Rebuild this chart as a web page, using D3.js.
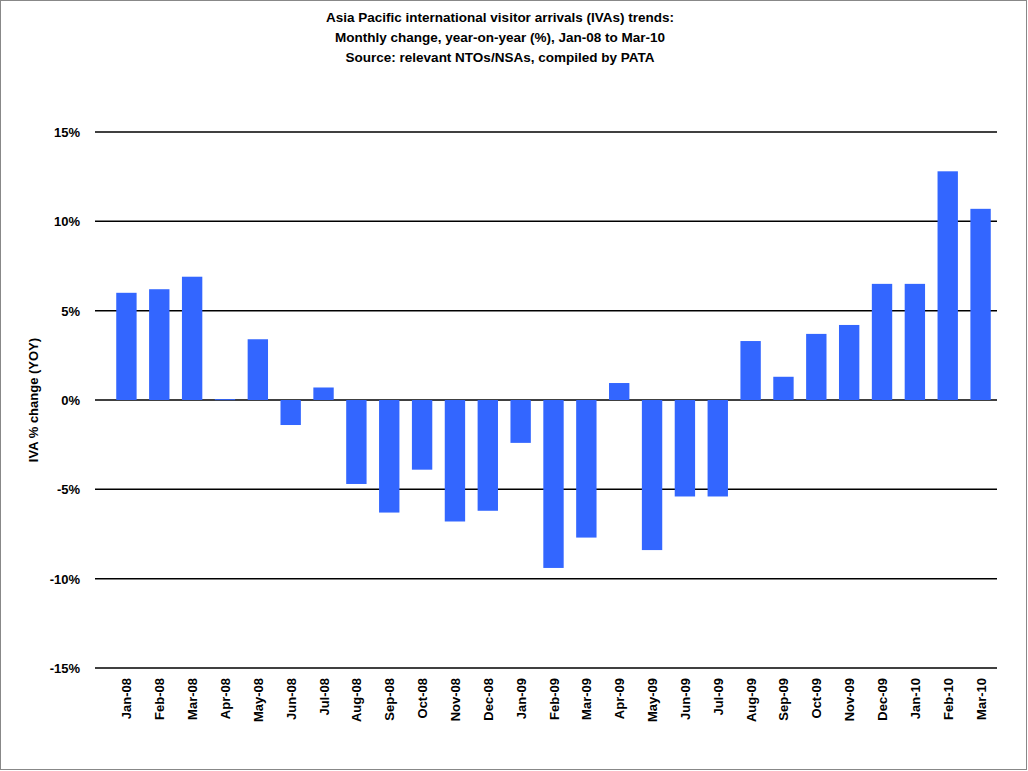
<!DOCTYPE html>
<html lang="en">
<head>
<meta charset="UTF-8">
<script src="https://d3js.org/d3.v7.min.js"></script>
<style>
  body { margin: 0; background: #fff; }
  text { font-family: "Liberation Sans", Arial, sans-serif; }
</style>
</head>
<body>
<svg id="main" width="1028" height="771"></svg>
<script>
const months = ["Jan-08","Feb-08","Mar-08","Apr-08","May-08","Jun-08","Jul-08","Aug-08","Sep-08","Oct-08","Nov-08","Dec-08",
  "Jan-09","Feb-09","Mar-09","Apr-09","May-09","Jun-09","Jul-09","Aug-09","Sep-09","Oct-09","Nov-09","Dec-09",
  "Jan-10","Feb-10","Mar-10"]
const change = [6.0, 6.2, 6.9, 0.05, 3.4, -1.4, 0.7, -4.7, -6.3, -3.9, -6.8, -6.2,
  -2.4, -9.4, -7.7, 0.95, -8.4, -5.4, -5.4, 3.3, 1.3, 3.7, 4.2, 6.5,
  6.5, 12.8, 10.7]
const ticks = [-15, -10, -5, 0, 5, 10, 15]
const titleLines = ["Asia Pacific international visitor arrivals (IVAs) trends:",
  "Monthly change, year-on-year (%), Jan-08  to Mar-10",
  "Source: relevant NTOs/NSAs, compiled by PATA"]

const svg = d3.select("#main")
svg.append("rect").attr("x", 0.5).attr("y", 0.5).attr("width", 1026).attr("height", 769)
  .attr("fill", "none").attr("stroke", "#888")

const x = d3.scaleBand().domain(months).range([110, 997]).paddingInner(0.38).paddingOuter(0.19)
const y = d3.scaleLinear().domain([-15, 15]).range([668, 132])

svg.append("g").selectAll("line").data(ticks).join("line")
  .attr("x1", 95).attr("x2", 997)
  .attr("y1", d => y(d)).attr("y2", d => y(d))
  .attr("stroke", "#000").attr("stroke-width", 1.5)

svg.append("g").selectAll("text").data(ticks).join("text")
  .attr("x", 80).attr("y", d => y(d) + 5)
  .attr("text-anchor", "end").attr("font-size", 13).attr("font-weight", "bold")
  .text(d => d + "%")

svg.append("g").selectAll("rect").data(change).join("rect")
  .attr("x", (d, i) => x(months[i]))
  .attr("width", x.bandwidth())
  .attr("y", d => y(Math.max(0, d)))
  .attr("height", d => Math.max(1, Math.abs(y(d) - y(0))))
  .attr("fill", "#3366ff")

svg.append("g").selectAll("text").data(months).join("text")
  .attr("transform", d => `translate(${x(d) + x.bandwidth() / 2 + 5},678) rotate(-90)`)
  .attr("text-anchor", "end").attr("font-size", 13).attr("font-weight", "bold")
  .text(d => d)

svg.append("text")
  .attr("transform", "translate(38,400) rotate(-90)")
  .attr("text-anchor", "middle").attr("font-size", 13).attr("font-weight", "bold")
  .text("IVA % change (YOY)")

svg.append("g").selectAll("text").data(titleLines).join("text")
  .attr("x", 500).attr("y", (d, i) => 22 + i * 20)
  .attr("text-anchor", "middle").attr("font-size", 13.5).attr("font-weight", "bold")
  .text(d => d)
</script>
</body>
</html>
